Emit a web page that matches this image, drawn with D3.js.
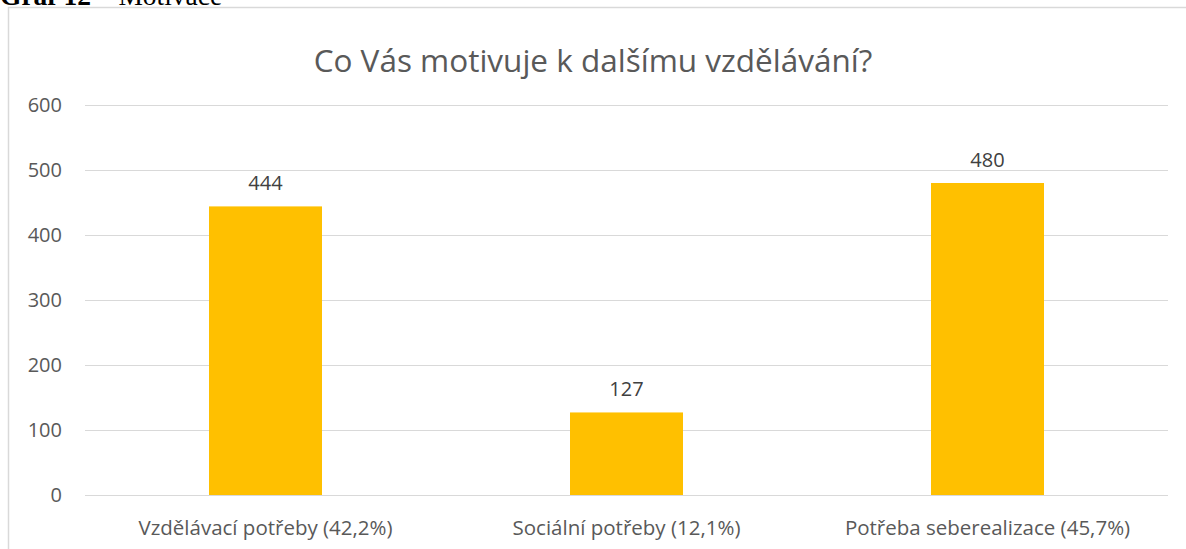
<!DOCTYPE html>
<html>
<head>
<meta charset="utf-8">
<script src="https://cdn.jsdelivr.net/npm/d3@7"></script>
<style>
  body { margin: 0; background: #fff; }
  text { font-family: "Open Sans", "Noto Sans", sans-serif; }
</style>
</head>
<body>
<svg id="chart"></svg>
<script>
const categories = ["Vzdělávací potřeby (42,2%)", "Sociální potřeby (12,1%)", "Potřeba seberealizace (45,7%)"];
const values = [444, 127, 480];
const yTicks = [0, 100, 200, 300, 400, 500, 600];
const chartTitle = "Co Vás motivuje k dalšímu vzdělávání?";

const svg_width = 1186, svg_height = 549;
const margin = {top: 105, right: 18, bottom: 54, left: 85},
      width = svg_width - margin.left - margin.right,
      height = 495 - margin.top;

const svg = d3.select("#chart")
  .attr("width", svg_width)
  .attr("height", svg_height);

// caption cut off at the top of the page (as in the source document)
const cap = svg.append("text")
  .attr("x", 0)
  .attr("y", 4.5)
  .style("font-family", "'Liberation Serif', serif")
  .style("font-size", "27.5px")
  .style("fill", "#000");
cap.append("tspan").style("font-weight", "bold").text("Graf 12");
cap.append("tspan").text(" – Motivace");

// chart frame
svg.append("rect")
  .attr("x", 8.5)
  .attr("y", 7.5)
  .attr("width", 1200)
  .attr("height", 600)
  .style("fill", "none")
  .style("stroke", "#d9d9d9")
  .style("stroke-width", 1.5);

svg.append("text")
  .attr("x", 593)
  .attr("y", 72)
  .attr("text-anchor", "middle")
  .text(chartTitle)
  .style("font-size", "31.5px")
  .style("fill", "#595959");

const chart = svg.append("g")
  .attr("transform", `translate(${margin.left},${margin.top})`);

const xScale = d3.scaleBand()
  .domain(categories)
  .range([0, width])
  .paddingInner(0.687)
  .paddingOuter(0.3435);

const yScale = d3.scaleLinear()
  .domain([0, 600])
  .range([height, 0]);

// horizontal grid lines
chart.append("g")
  .call(d3.axisLeft(yScale).tickValues(yTicks).tickSize(-width).tickFormat(""))
  .call(g => g.select(".domain").remove())
  .selectAll("line")
    .style("stroke", "#d9d9d9")
    .style("stroke-width", 1);

// y labels
chart.append("g")
  .call(d3.axisLeft(yScale).tickValues(yTicks).tickSize(0).tickPadding(23))
  .call(g => g.select(".domain").remove())
  .selectAll("text")
    .style("font-family", "'Open Sans', sans-serif")
    .style("font-size", "20px")
    .style("fill", "#595959");

// bars
chart.append("g")
  .selectAll("rect")
  .data(values)
  .enter()
    .append("rect")
    .attr("x", (d, i) => xScale(categories[i]))
    .attr("y", d => yScale(d))
    .attr("width", xScale.bandwidth())
    .attr("height", d => height - yScale(d))
    .style("fill", "#ffc000");

// value labels
chart.selectAll(".vlabel")
  .data(values)
  .enter()
    .append("text")
    .attr("class", "vlabel")
    .attr("x", (d, i) => xScale(categories[i]) + xScale.bandwidth() / 2)
    .attr("y", d => yScale(d) - 16)
    .attr("text-anchor", "middle")
    .text(d => d)
    .style("font-size", "20px")
    .style("fill", "#404040");

// x axis labels
chart.append("g")
  .attr("transform", `translate(0,${height})`)
  .call(d3.axisBottom(xScale).tickSize(0).tickPadding(0))
  .call(g => g.select(".domain").remove())
  .selectAll("text")
    .attr("dy", null)
    .attr("y", 40)
    .style("font-family", "'Open Sans', sans-serif")
    .style("font-size", "20.5px")
    .style("fill", "#595959");
</script>
</body>
</html>
